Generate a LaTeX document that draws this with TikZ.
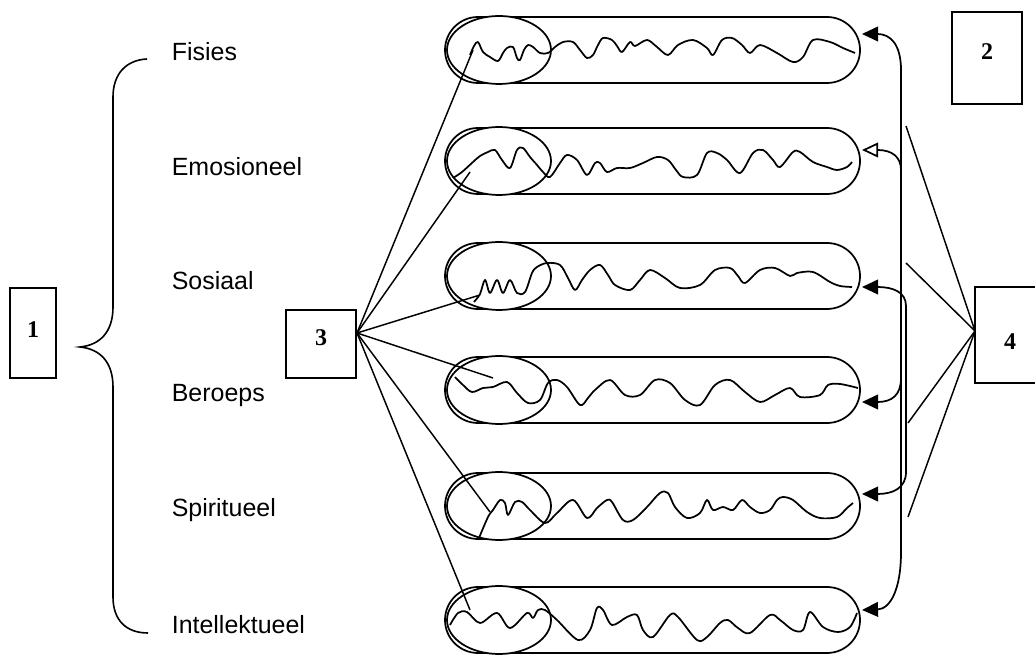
\documentclass[tikz,border=0pt]{standalone}
\usepackage{fontspec}
\setmainfont{Liberation Sans}
\newfontfamily\numfont{Liberation Serif}
\usetikzlibrary{arrows.meta,shapes.geometric}
\begin{document}
\begin{tikzpicture}[x=0.75pt,y=-0.75pt,line width=1.3pt,
  numbox/.style={draw,line width=1.1pt,inner sep=0pt},
  numtxt/.style={inner sep=0pt,font=\numfont\bfseries\fontsize{18}{20}\selectfont},
  lbl/.style={anchor=west,inner sep=0pt,font=\fontsize{18.7}{22}\selectfont},
  capsule/.style={draw,rounded corners=24.75pt,minimum width=311.25pt,minimum height=49.5pt,inner sep=0pt},
  ell/.style={draw,ellipse,fill=white,minimum width=78pt,minimum height=51pt,inner sep=0pt},
  wave/.style={line width=1.3pt,line join=round},
  link/.style={line width=1.1pt},
  arr/.style={-{Triangle[length=12pt,width=11pt]}},
  arrtwo/.style={{Triangle[length=12pt,width=11pt]}-{Triangle[length=12pt,width=11pt]}},
  arropen/.style={-{Triangle[open,length=12pt,width=11pt]}}]
\useasboundingbox (0,0) rectangle (1035,655);

% boxes
\node[numbox,minimum width=34.5pt,minimum height=67.5pt] (b1) at (33,333) {};
\node[numtxt] (t1) at (33,330) {1};
\node[numbox,minimum width=52.5pt,minimum height=69pt] (b2) at (987,58) {};
\node[numtxt] (t2) at (987,52) {2};
\node[numbox,minimum width=52.5pt,minimum height=51pt] (b3) at (321,344) {};
\node[numtxt] (t3) at (321,338) {3};
\node[numbox,minimum width=52.5pt,minimum height=72pt] (b4) at (1010,335) {};
\node[numtxt] (t4) at (1010,342) {4};

% brace
\draw[line width=1.2pt] (147,59) .. controls (126,60) and (113,74) .. (113,97)
  -- (113,307) .. controls (113,332) and (100,345) .. (80,347)
  .. controls (100,349) and (113,362) .. (113,387)
  -- (113,597) .. controls (113,620) and (126,633) .. (148,633);

% labels
\node[lbl] (l1) at (171,52) {Fisies};
\node[lbl] (l2) at (171,167) {Emosioneel};
\node[lbl] (l3) at (171,281) {Sosiaal};
\node[lbl] (l4) at (171,396) {Beroeps};
\node[lbl] (l5) at (171,510) {Spiritueel};
\node[lbl] (l6) at (171,625) {Intellektueel};

% capsules and ellipses
\foreach \i/\c in {1/50,2/161,3/276,4/390,5/506,6/620}{
  \node[capsule] (cap\i) at (652.5,\c) {};
  \node[ell] (e\i) at (499,\c) {};
}

% waves
\draw[wave] plot[smooth,tension=0.55] coordinates {(470,55) (474,46) (478,42) (483,52) (490,57) (498,61) (503,53) (507,48) (513,47) (517,58) (520,60) (524,50) (528,45) (533,47) (540,53) (548,53) (555,47) (563,42) (573,42) (580,50) (587,58) (593,55) (598,45) (603,38) (612,40) (617,46) (622,52) (630,42) (635,46) (647,40) (657,47) (668,55) (678,45) (693,40) (707,48) (713,55) (722,40) (732,38) (742,45) (750,53) (760,45) (777,53) (793,62) (803,57) (813,40) (830,42) (843,48) (855,53)};
\draw[wave] plot[smooth,tension=0.55] coordinates {(453,178) (462,172) (473,162) (480,156) (488,152) (495,150) (502,160) (510,168) (517,150) (523,148) (530,157) (537,165) (543,172) (550,177) (560,163) (567,155) (577,160) (587,175) (595,163) (600,163) (607,172) (617,168) (630,168) (643,163) (657,157) (668,160) (676,170) (683,177) (697,175) (707,153) (717,153) (727,160) (740,173) (753,153) (763,150) (773,160) (780,167) (793,152) (800,152) (813,162) (827,167) (837,170) (847,167) (852,162)};
\draw[wave] plot[smooth,tension=0.55] coordinates {(474,302) (480,294) (485,280) (490,293) (497,280) (503,293) (510,280) (517,293) (525,292) (532,273) (537,267) (547,263) (560,265) (568,278) (575,290) (582,280) (590,270) (600,265) (608,275) (615,285) (630,290) (640,280) (650,270) (665,278) (680,288) (700,285) (715,270) (730,268) (738,276) (745,283) (760,270) (775,268) (790,276) (797,273) (813,272) (830,282) (840,286) (852,287)};
\draw[wave] plot[smooth,tension=0.55] coordinates {(455,377) (463,385) (472,392) (483,388) (493,387) (507,382) (517,393) (528,403) (540,400) (548,383) (557,380) (567,387) (580,405) (588,398) (595,390) (610,380) (625,395) (640,395) (655,380) (670,383) (685,400) (700,405) (715,385) (730,380) (745,392) (760,402) (775,395) (790,388) (800,397) (820,395) (828,385) (840,384) (858,388)};
\draw[wave] plot[smooth,tension=0.55] coordinates {(479,538) (488,517) (493,510) (500,500) (505,503) (508,515) (515,502) (522,502) (530,510) (545,523) (557,513) (573,500) (587,518) (597,508) (607,500) (612,502) (623,520) (633,520) (647,507) (660,493) (668,493) (675,507) (687,518) (700,513) (707,500) (713,510) (723,507) (733,510) (742,500) (750,507) (760,513) (770,510) (777,500) (783,497) (793,500) (807,512) (820,518) (837,517) (847,508) (853,503)};
\draw[wave] plot[smooth,tension=0.55] coordinates {(450,625) (458,613) (467,612) (480,623) (497,613) (510,628) (527,613) (533,618) (538,610) (545,610) (557,620) (578,640) (590,630) (597,608) (603,610) (612,625) (627,617) (637,615) (643,630) (653,637) (670,615) (678,617) (697,640) (707,637) (720,623) (728,620) (738,628) (750,633) (770,615) (780,620) (793,630) (803,630) (810,612) (823,627) (838,632) (850,627) (857,613)};

% connectors from box 3
\coordinate (h3) at (357,333);
\coordinate (w1) at (473,50);
\coordinate (w2) at (470,172);
\coordinate (w3) at (480,295);
\coordinate (w4) at (493,378);
\coordinate (w5) at (490,512);
\coordinate (w6) at (470,610);
\foreach \k in {1,...,6}{\draw[link] (h3) -- (w\k);}

% connectors from box 4
\coordinate (h4) at (975,331);
\coordinate (v1) at (906,126);
\coordinate (v2) at (906,263);
\coordinate (v3) at (908,423);
\coordinate (v4) at (908,517);
\foreach \k in {1,...,4}{\draw[link] (h4) -- (v\k);}

% arrows to the capsules
\coordinate (a1) at (862,34);
\coordinate (a2) at (862,150);
\coordinate (a3) at (862,287);
\coordinate (a4) at (862,402);
\coordinate (a5) at (862,494);
\coordinate (a6) at (862,610);
\draw[arrtwo] (a1) .. controls (890,34) and (901,44) .. (901,70)
  -- (901,552) .. controls (901,590) and (890,609) .. (a6);
\draw[arropen] (901,170) .. controls (901,157) and (892,150) .. (a2);
\draw[arrtwo] (a3) .. controls (893,287) and (906,292) .. (906,306)
  -- (906,472) .. controls (906,488) and (893,494) .. (a5);
\draw[arr] (901,378) .. controls (901,395) and (892,402) .. (a4);
\end{tikzpicture}
\end{document}
